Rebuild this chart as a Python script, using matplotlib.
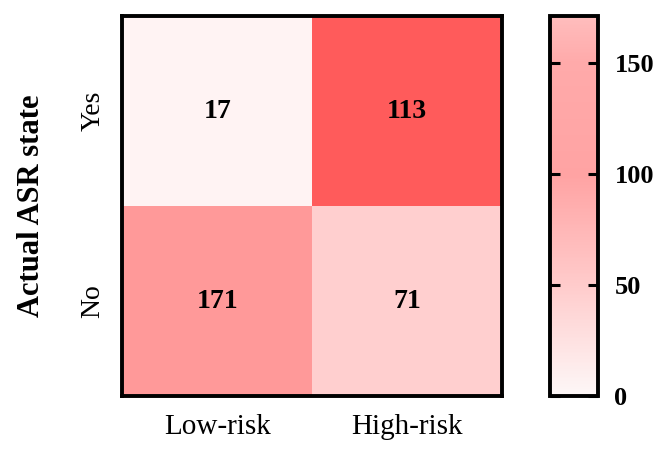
import matplotlib
matplotlib.use("Agg")
import matplotlib.pyplot as plt
from matplotlib.colors import LinearSegmentedColormap, Normalize
from matplotlib.cm import ScalarMappable
import numpy as np

plt.rcParams['font.family'] = ['Liberation Serif', 'DejaVu Serif']

# confusion matrix (rows: actual Yes / No, cols: predicted Low-risk / High-risk)
row_labels = ['Yes', 'No']
col_labels = ['Low-risk', 'High-risk']
counts = np.array([[17, 113],
                   [171, 71]])
cbar_ticks = [0, 50, 100, 150]

# cells are shaded by share within each actual-state row
row_share = counts / counts.sum(axis=1, keepdims=True)

cell_cmap = LinearSegmentedColormap.from_list('cells', [
    (0.0, '#ffffff'), (0.131, '#fff3f3'), (0.293, '#ffd0d0'),
    (0.707, '#ff9999'), (0.869, '#ff5c5c'), (1.0, '#ff4545')])
bar_cmap = LinearSegmentedColormap.from_list('bar', [
    (0.0, '#fdf7f7'), (0.3, '#ffcaca'), (0.58, '#ffa3a3'),
    (0.88, '#ffaaaa'), (1.0, '#ffbdbd')])

fig = plt.figure(figsize=(6.6, 4.49), dpi=100)
ax = fig.add_axes([0.185, 0.118, 0.576, 0.846])
cax = fig.add_axes([0.833, 0.118, 0.0727, 0.846])

ax.imshow(row_share, cmap=cell_cmap, vmin=0, vmax=1, aspect='auto')
for i in range(counts.shape[0]):
    for j in range(counts.shape[1]):
        ax.text(j, i, str(counts[i, j]), ha='center', va='center',
                fontsize=20, fontweight='bold')

ax.set_xticks(range(len(col_labels)))
ax.set_xticklabels(col_labels, fontsize=21)
ax.set_yticks(range(len(row_labels)))
ax.set_yticklabels(row_labels, fontsize=20, rotation=90, va='center')
ax.tick_params(axis='x', length=0, pad=13)
ax.tick_params(axis='y', length=0, pad=12)
ax.set_ylabel('Actual ASR state', fontsize=22, fontweight='bold', labelpad=25)
for s in ax.spines.values():
    s.set_linewidth(2.8)

sm = ScalarMappable(norm=Normalize(0, counts.max()), cmap=bar_cmap)
cb = fig.colorbar(sm, cax=cax, ticks=cbar_ticks)
cb.outline.set_linewidth(2.8)
cax.tick_params(direction='in', length=7, width=2.2, left=True, right=True,
                labelsize=19, pad=12)
for lab in cax.get_yticklabels():
    lab.set_fontweight('bold')

fig.savefig('out.png', dpi=100)
